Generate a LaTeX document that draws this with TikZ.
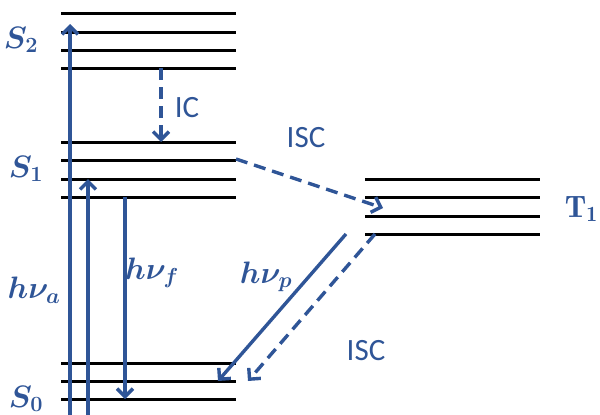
\RequirePackage{fix-cm}
\documentclass[tikz,border=0pt]{standalone}
\usepackage{amsmath,bm}
\usepackage{fontspec}
\setsansfont{Carlito}
\usetikzlibrary{arrows.meta}
\definecolor{jblue}{RGB}{47,85,151}
\tikzset{
  level/.style={line width=3pt, black},
  trans/.style={jblue, line width=3.4pt, -{Straight Barb[length=8pt,width=16pt]}},
  nonrad/.style={trans, dash pattern=on 12pt off 7pt},
  statelbl/.style={jblue, font=\fontsize{31}{34}\selectfont, inner sep=0pt},
  proclbl/.style={jblue, font=\sffamily\fontsize{31}{34}\selectfont, inner sep=0pt},
}
\begin{document}
\begin{tikzpicture}[x=1pt,y=-1pt]
\useasboundingbox (0,0) rectangle (600,415);
% singlet S2
\foreach \y in {13,32,50,68} \draw[level] (61,\y) -- (236,\y);
% singlet S1
\foreach \y in {142,160,179,197} \draw[level] (61,\y) -- (236,\y);
% ground state S0
\foreach \y in {363,381,399} \draw[level] (61,\y) -- (236,\y);
% triplet T1
\foreach \y in {179,197,216,234} \draw[level] (365,\y) -- (540,\y);

% endpoints of the transitions
\coordinate (a0) at (70,420);   \coordinate (a1) at (70,24);
\coordinate (b0) at (88,420);   \coordinate (b1) at (88,179);
\coordinate (f0) at (125,197);  \coordinate (f1) at (125,399);
\coordinate (ic0) at (161,68);  \coordinate (ic1) at (161,142);
\coordinate (isc0) at (236,159);\coordinate (isc1) at (383,208);
\coordinate (p0) at (346,234);  \coordinate (p1) at (218,381);
\coordinate (q0) at (375,234);  \coordinate (q1) at (248,381);

\draw[trans] (a0) -- (a1);
\draw[trans] (b0) -- (b1);
\draw[trans] (f0) -- (f1);
\draw[nonrad] (ic0) -- (ic1);
\draw[nonrad] (isc0) -- (isc1);
\draw[trans] (p0) -- (p1);
\draw[nonrad] (q0) -- (q1);

% state labels
\node[statelbl] (s2) at (21,40) {$\bm{S_2}$};
\node[statelbl] (s1) at (26,169) {$\bm{S_1}$};
\node[statelbl] (s0) at (26,399) {$\bm{S_0}$};
\node[statelbl, anchor=east] (t1) at (598,209) {$\mathbf{T_1}$};

% transition labels
\node[statelbl] (la) at (34,290) {$\bm{h\nu_a}$};
\node[statelbl] (lf) at (152,273) {$\bm{h\nu_f}$};
\node[statelbl] (lp) at (266,277) {$\bm{h\nu_p}$};
\node[proclbl] (lic) at (187,108) {IC};
\node[proclbl] (lisc) at (306,138) {ISC};
\node[proclbl] (lisc2) at (366,351) {ISC};
\end{tikzpicture}
\end{document}
